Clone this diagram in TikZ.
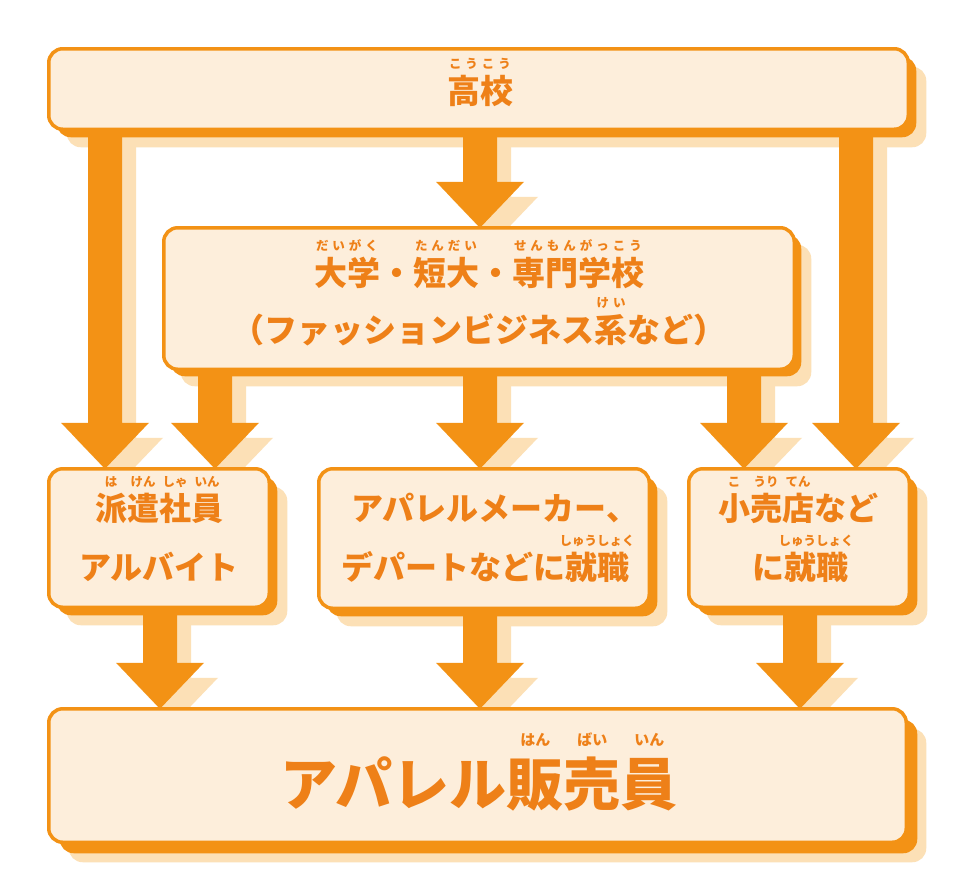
\documentclass[tikz,border=0pt]{standalone}
\usepackage{fontspec}
\newfontfamily\jp{Noto Sans CJK JP}
\newfontfamily\rubyfont{Noto Sans CJK JP}
\usetikzlibrary{calc}
\definecolor{ora}{HTML}{F39215}
\definecolor{cream}{HTML}{FDEEDB}
\definecolor{peach}{HTML}{FCE0B6}
\definecolor{txt}{HTML}{EE8018}
\pgfdeclarelayer{bgl}
\pgfdeclarelayer{shadowl}
\pgfdeclarelayer{orangel}
\pgfsetlayers{bgl,shadowl,orangel,main}
\newcommand\rubysize{12.5}
\newcommand\rb[2]{\leavevmode\setbox0\hbox{#1}%
\setbox2\hbox{\rubyfont\fontsize{\rubysize}{\rubysize}\selectfont #2}%
\ifdim\wd2>\wd0
\setbox2\hbox to\wd0{\hss\box2\hss}%
\else
\setbox2\hbox to\wd0{\rubyfont\fontsize{\rubysize}{\rubysize}\selectfont\hskip0pt plus .5fil #2\hskip0pt plus .5fil}%
\fi
\rlap{\raise1.05em\box2}\box0}
\tikzset{
  boxst/.style={draw=ora, fill=cream, line width=3.5pt, rounded corners=14pt, inner sep=0pt, outer sep=0pt},
  lab/.style={text=txt, font=\jp\bfseries\fontsize{33}{33}\selectfont, inner sep=0pt, anchor=base},
  labsm/.style={lab, font=\jp\bfseries\fontsize{32}{32}\selectfont},
  labbig/.style={lab, font=\jp\bfseries\fontsize{57}{57}\selectfont}
}
\newcommand\mybox[7]{%
 \node[boxst, minimum width={#4-#2-3.5}, minimum height={#5-#3-3.5}] (#1) at ({(#2+#4)/2},{(#3+#5)/2}) {};
 \begin{pgfonlayer}{orangel}
  \fill[ora, rounded corners=14pt] ([shift={(#6,#6)}]#1.north west) rectangle ([shift={(#6,#6)}]#1.south east);
 \end{pgfonlayer}
 \begin{pgfonlayer}{shadowl}
  \fill[peach, rounded corners=14pt] ([shift={(#7,#7)}]#1.north west) rectangle ([shift={(#7,#7)}]#1.south east);
 \end{pgfonlayer}}
\newcommand\flowarrow[3]{%
 \begin{pgfonlayer}{shadowl}
 \fill[peach] let \p1=(#2.south), \p2=(#3.north) in
   (#1-17+14,\y1) -- (#1+17+14,\y1) -- (#1+17+14,\y2+46-15) -- (#1+44+14,\y2+46-15)
   -- (#1+14,\y2-15) -- (#1-44+14,\y2+46-15) -- (#1-17+14,\y2+46-15) -- cycle;
 \end{pgfonlayer}
 \begin{pgfonlayer}{orangel}
 \fill[ora] let \p1=(#2.south), \p2=(#3.north) in
   (#1-17,\y1) -- (#1+17,\y1) -- (#1+17,\y2+46) -- (#1+44,\y2+46)
   -- (#1,\y2) -- (#1-44,\y2+46) -- (#1-17,\y2+46) -- cycle;
 \end{pgfonlayer}}
\begin{document}
\begin{tikzpicture}[x=1pt,y=-1pt]
\useasboundingbox (0,0) rectangle (960,895);
\begin{pgfonlayer}{bgl}
\fill[white] (0,0) rectangle (960,895);
\end{pgfonlayer}
% boxes
\mybox{top}{47}{47}{910}{131}{8}{18}
\mybox{mid}{162}{226}{796}{371}{7}{17}
\mybox{haken}{47}{467}{271}{609}{8}{18}
\mybox{maker}{317}{467}{651}{610}{8}{18}
\mybox{kouri}{687}{467}{911}{609}{8}{18}
\mybox{hanbai}{47}{707}{908}{844}{11}{20}
% arrows
\flowarrow{480}{top}{mid}
\flowarrow{105}{top}{haken}
\flowarrow{215}{mid}{haken}
\flowarrow{480}{mid}{maker}
\flowarrow{744}{mid}{kouri}
\flowarrow{856}{top}{kouri}
\flowarrow{160}{haken}{hanbai}
\flowarrow{480}{maker}{hanbai}
\flowarrow{800}{kouri}{hanbai}
% labels
\node[lab] (t1) at (480,103) {\rb{高校}{こ\hfil う\hfil こ\hfil う}};
\node[lab] (m1) at (479,285) {\rb{大学}{だ\hfil い\hfil が\hfil く}・\rb{短大}{た\hfil ん\hfil だ\hfil い}・\rb{専門学校}{せ\hfil ん\hfil も\hfil ん\hfil が\hfil っ\hfil こ\hfil う}};
\node[lab] (m2) at (479,342) {（ファッションビジネス\rb{系}{け\hfil い}など）};
\node[labsm] (h1) at (159,520) {\rb{派}{は}\rb{遣}{けん}\rb{社}{しゃ}\rb{員}{いん}};
\node[labsm] (h2) at (159,579) {アルバイト};
\node[labsm] (k1) at (495,520) {アパレルメーカー、};
\node[labsm] (k2) at (485,579) {デパートなどに\rb{就職}{し\hfil ゅ\hfil う\hfil し\hfil ょ\hfil く}};
\node[labsm] (r1) at (798,520) {\rb{小}{こ}\rb{売}{うり}\rb{店}{てん}など};
\node[labsm] (r2) at (800,579) {に\rb{就職}{し\hfil ゅ\hfil う\hfil し\hfil ょ\hfil く}};
\node[labbig] (b1) at (479,805) {\renewcommand\rubysize{15}アパレル\rb{販}{はん}\rb{売}{ばい}\rb{員}{いん}};
\end{tikzpicture}
\end{document}
